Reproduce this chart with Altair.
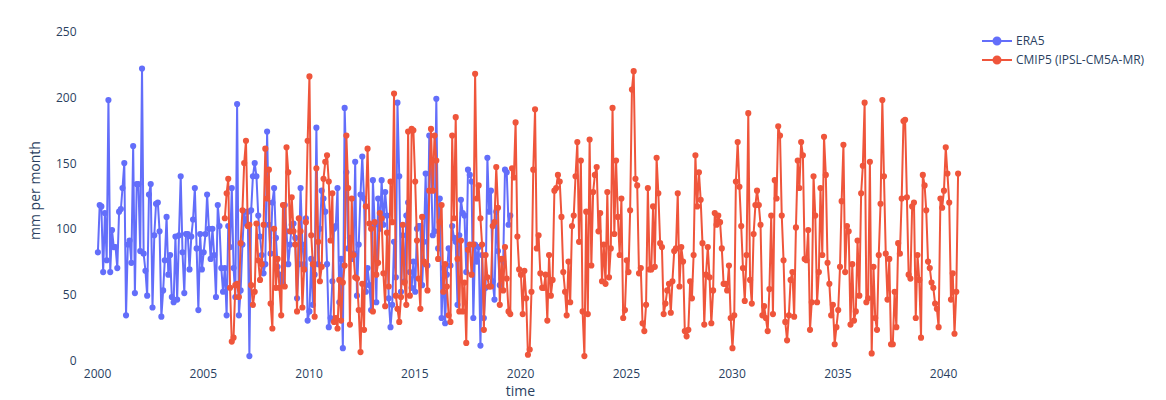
import altair as alt
import pandas as pd

# ---- ERA5 monthly precipitation (mm per month) ----
era5_a = [82, 118, 117, 67, 112, 76, 198, 67, 99, 86, 86, 70, 113, 115, 131, 150, 34, 88, 91, 74,
          163, 51, 134, 134, 83, 222, 81, 68, 49, 126, 134, 40, 95, 119, 120, 98, 33, 53, 76, 109, 65]
era5_b = [80, 48, 44, 94, 46, 95, 140, 82, 51, 96, 96, 69, 94, 107, 131, 85, 38, 96, 69, 82,
          96, 126, 100, 77, 100, 80, 48, 118, 102, 70, 52, 70, 34, 102, 86, 131, 70, 48, 195, 34,
          53, 88, 113, 104, 113, 3]
era5_c = [114, 140, 150, 140, 110, 94, 80, 66, 73, 174, 103, 81, 120, 131, 93, 71, 65, 60, 58, 118,
          98, 73, 88, 103, 104, 93, 47, 73, 131, 88, 73, 108, 30, 37, 77, 42, 65, 177, 73, 100,
          129, 123, 113, 73]
era5_d = [25, 32, 60, 100, 102, 131, 44, 77, 9, 192, 143, 85, 93, 77, 81, 151, 49, 88, 126, 155,
          123, 52, 70, 57, 38, 137, 103, 44, 123, 100, 137, 103, 128, 110, 47, 25, 42, 90, 63, 196,
          140, 52, 95]
era5_e = [60, 110, 120, 67, 55, 75, 52, 100, 102, 102, 57, 90, 142, 72, 171, 143, 95, 98, 199, 85,
          123, 32, 70, 28, 65, 85, 72, 102, 93, 90, 42, 95, 122, 112, 110, 67, 145, 141, 136, 32,
          88, 75, 86, 11]
era5_f = [80, 32, 55, 154, 113, 129, 60, 46, 113, 83, 57, 62, 75, 145, 143, 103, 110]

# ---- CMIP5 (IPSL-CM5A-MR) monthly precipitation ----
cmip_a = [108, 127, 138, 55, 14, 17, 57, 58, 48, 89, 114, 150, 167, 102]
cmip_b = [103, 57, 42, 52, 104, 76, 61, 73, 103, 161, 123, 145, 43, 24, 100, 55, 77, 55, 34, 118,
          56, 162, 143, 98, 124, 98, 88, 37, 108, 98, 40, 69, 105, 167, 216, 95, 73, 33, 146, 90,
          60, 71, 138, 151, 156]
cmip_c = [136, 91, 127, 29, 32, 24, 61, 30, 59, 72, 171, 131, 27, 123, 80, 63, 62, 38, 6, 58,
          23, 117, 161, 104, 100, 37, 105, 65, 74, 112, 108, 66, 41, 97, 56, 136, 105, 203, 49, 39,
          29, 48, 103, 59, 42]
cmip_d = [174, 49, 176, 175, 136, 91, 62, 39, 109, 75, 73, 53, 129, 176, 129, 171, 152, 77, 105, 118,
          52, 73, 56, 34, 29, 171, 108, 185, 77, 37, 91, 37, 59, 13, 84, 88, 65, 88, 218, 123,
          133, 108, 88, 23, 80]
cmip_e = [63, 56, 56, 102, 105, 147, 116, 42, 77, 53, 86, 62, 37, 35, 146, 139, 181, 94, 69, 65,
          35, 68, 47, 4, 8, 52, 145, 191, 85, 95, 66, 55, 55, 65, 30, 80, 49, 61, 129, 131,
          141, 136, 109, 67, 52]
cmip_f = [34, 75, 44, 102, 110, 140, 166, 90, 152, 37, 3, 113, 35, 168, 72, 128, 141, 147, 98, 112,
          60, 88, 58, 128, 63, 85, 192, 96, 152, 109, 80, 123, 32, 38, 76, 67, 114, 206, 220, 138,
          133, 66]
cmip_g = [70, 28, 22, 42, 131, 69, 69, 117, 71, 154, 127, 89, 86, 35, 43, 53, 58, 36, 60, 83,
          85, 127, 56, 86, 75, 22, 18, 23, 60, 47, 80, 156, 117, 143, 122, 89, 27, 65, 86, 63,
          28, 53, 112]
cmip_h = [103, 110, 105, 85, 58, 58, 53, 72, 32, 9, 34, 136, 166, 132, 102, 70, 45, 80, 188, 61,
          43, 96, 118, 129, 118, 103, 34, 41, 32, 22, 54, 110, 35, 137, 123, 178, 171, 110, 76, 29,
          15, 34, 61, 67]
cmip_i = [33, 101, 152, 131, 166, 156, 77, 76, 99, 23, 44, 140, 110, 44, 67, 131, 80, 170, 141, 74,
          58, 34, 42, 12, 25, 38, 71, 121, 164, 67, 102, 98, 27, 73, 30, 37, 91, 49, 127, 148,
          196, 44, 47, 151, 5]
cmip_j = [71, 32, 23, 80, 119, 198, 140, 81, 46, 77, 12, 12, 52, 25, 89, 81, 123, 182, 183, 124,
          65, 62, 117, 120, 32, 80, 61, 17, 141, 133, 114, 75, 70, 59, 55, 43, 39, 25, 123, 116,
          129, 162, 142, 120, 46, 66, 20, 52, 142]

series_names = ["ERA5", "CMIP5 (IPSL-CM5A-MR)"]
series_colors = ["#636efa", "#EF553B"]
era5_start = "2000-01-01"
cmip5_start = "2006-01-01"
year_ticks = [2000, 2005, 2010, 2015, 2020, 2025, 2030, 2035, 2040]

era5 = era5_a + era5_b + era5_c + era5_d + era5_e + era5_f
cmip5 = cmip_a + cmip_b + cmip_c + cmip_d + cmip_e + cmip_f + cmip_g + cmip_h + cmip_i + cmip_j


def monthly(start, vals, name):
    d = pd.date_range(start, periods=len(vals), freq="MS") + pd.Timedelta(days=15)
    return pd.DataFrame({"time": d.strftime("%Y-%m-%d"), "value": vals, "series": name})


df = pd.concat([monthly(era5_start, era5, series_names[0]),
                monthly(cmip5_start, cmip5, series_names[1])], ignore_index=True)

FONT = "Open Sans"
TXT = "#2a3f5f"

legend_path = "M-1.5,0L1.5,0M-0.35,0A0.35,0.35 0 1,1 0.35,0A0.35,0.35 0 1,1 -0.35,0"

color = alt.Color(
    "series:N",
    scale=alt.Scale(domain=series_names, range=series_colors),
    sort=series_names,
    legend=alt.Legend(
        title=None, orient="none", legendX=906, legendY=10,
        labelFont=FONT, labelFontSize=12, labelColor=TXT,
        symbolType=legend_path, symbolSize=400, symbolStrokeWidth=2,
        rowPadding=0, labelOffset=8,
    ),
)

x = alt.X(
    "time:T",
    title="time",
    scale=alt.Scale(domain=["1999-03-13", "2040-10-19"], nice=False),
    axis=alt.Axis(
        values=[alt.DateTime(year=y, month=1, date=1) for y in year_ticks],
        format="%Y", grid=False, domain=False, ticks=False, labelPadding=8,
        labelFont=FONT, labelFontSize=12, labelColor=TXT,
        titleFont=FONT, titleFontSize=14, titleColor=TXT, titleFontWeight="normal",
        titlePadding=5,
    ),
)
y = alt.Y(
    "value:Q",
    title="mm per month",
    scale=alt.Scale(domain=[0, 259], nice=False, zero=False),
    axis=alt.Axis(
        values=[0, 50, 100, 150, 200, 250], grid=False, domain=False, ticks=False,
        labelPadding=4, labelFont=FONT, labelFontSize=12, labelColor=TXT,
        titleFont=FONT, titleFontSize=14, titleColor=TXT, titleFontWeight="normal",
        titlePadding=13,
    ),
)

layers = []
for name in series_names:
    layers.append(
        alt.Chart(df).transform_filter(alt.datum.series == name)
        .mark_line(strokeWidth=2, point=alt.OverlayMarkDef(size=38, filled=True, opacity=1))
        .encode(x=x, y=y, color=color)
    )

chart = alt.layer(*layers).properties(
    width=880, height=340,
    autosize=alt.AutoSizeParams(type="none"),
    padding={"left": 80, "top": 20, "right": 206, "bottom": 40},
    background="white",
).configure_view(stroke=None)

chart.save("out.html", embed_options={"renderer": "svg", "actions": False})
